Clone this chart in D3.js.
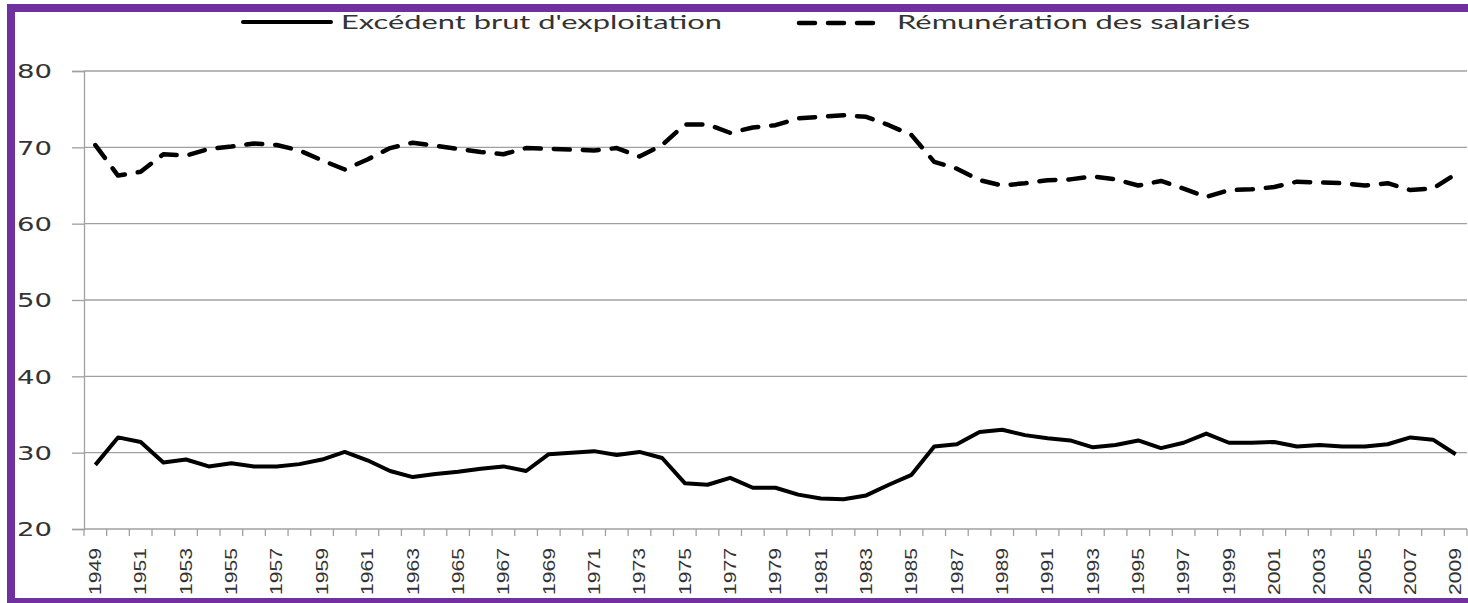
<!DOCTYPE html>
<html>
<head>
<meta charset="utf-8">
<script src="https://cdn.jsdelivr.net/npm/d3@7"></script>
<style>
  html, body { margin: 0; padding: 0; background: #fff; }
  svg { display: block; }
</style>
</head>
<body>
<svg id="chart" width="1468" height="603"></svg>
<script>
// ---- Data ----
const years = d3.range(1949, 2010);
const seriesNames = ["Excédent brut d'exploitation", "Rémunération des salariés"];
const ebe = [28.4, 32.0, 31.4, 28.7, 29.1, 28.2, 28.6, 28.2, 28.2, 28.5,
             29.1, 30.1, 29.0, 27.6, 26.8, 27.2, 27.5, 27.9, 28.2, 27.6,
             29.8, 30.0, 30.2, 29.7, 30.1, 29.3, 26.0, 25.8, 26.7, 25.4,
             25.4, 24.5, 24.0, 23.9, 24.4, 25.8, 27.1, 30.8, 31.1, 32.7,
             33.0, 32.3, 31.9, 31.6, 30.7, 31.0, 31.6, 30.6, 31.3, 32.5,
             31.3, 31.3, 31.4, 30.8, 31.0, 30.8, 30.8, 31.1, 32.0, 31.7,
             29.8];
const rem = [70.3, 66.3, 66.8, 69.1, 68.9, 69.8, 70.1, 70.5, 70.3, 69.6,
             68.3, 67.1, 68.4, 69.9, 70.6, 70.2, 69.8, 69.4, 69.1, 69.9,
             69.8, 69.7, 69.6, 69.9, 68.8, 70.3, 73.0, 73.0, 71.9, 72.6,
             72.9, 73.8, 74.0, 74.2, 74.0, 72.9, 71.6, 68.1, 67.2, 65.7,
             65.0, 65.3, 65.7, 65.8, 66.2, 65.8, 65.0, 65.6, 64.6, 63.5,
             64.4, 64.5, 64.8, 65.5, 65.4, 65.3, 65.0, 65.3, 64.4, 64.6,
             66.5];
const yTicks = [20, 30, 40, 50, 60, 70, 80];
const xTickLabels = years.filter(y => (y - 1949) % 2 === 0);

(function () {
// ---- Layout ----
const svg = d3.select("#chart");
const pLeft = 84, pRight = 1467, pTop = 71, pBottom = 529;
const x = d3.scaleBand().domain(years).range([pLeft, pRight]).paddingInner(0).paddingOuter(0);
const y = d3.scaleLinear().domain([20, 80]).range([pBottom, pTop]);
const cx = d => x(d) + x.bandwidth() / 2;

const gridColor = "#a0a0a0";

// Gridlines
svg.append("g").selectAll("line").data(yTicks.filter(t => t !== 20)).join("line")
  .attr("x1", pLeft).attr("x2", pRight)
  .attr("y1", d => y(d)).attr("y2", d => y(d))
  .attr("stroke", gridColor).attr("stroke-width", 1.3);

// Y axis
const yAxis = svg.append("g").attr("transform", `translate(${pLeft},0)`)
  .call(d3.axisLeft(y).tickValues(yTicks).tickSize(12).tickFormat(d3.format("d")));
yAxis.select(".domain").attr("stroke", gridColor).attr("stroke-width", 1.3);
yAxis.selectAll(".tick line").attr("stroke", gridColor).attr("stroke-width", 1.3);
yAxis.selectAll(".tick text")
  .attr("x", -32).attr("dy", "0.36em")
  .attr("text-anchor", "end")
  .attr("font-family", "DejaVu Sans").attr("font-size", 19)
  .attr("fill", "#333")
  .attr("textLength", 35).attr("lengthAdjust", "spacingAndGlyphs");

// X axis line + ticks at category boundaries
svg.append("line").attr("x1", pLeft).attr("x2", pRight).attr("y1", pBottom).attr("y2", pBottom)
  .attr("stroke", gridColor).attr("stroke-width", 1.3);
const boundaries = years.map(d => x(d)).concat([pRight]);
svg.append("g").selectAll("line").data(boundaries).join("line")
  .attr("x1", d => d).attr("x2", d => d)
  .attr("y1", pBottom).attr("y2", pBottom + 7)
  .attr("stroke", gridColor).attr("stroke-width", 1.3);

// X labels
svg.append("g").selectAll("text").data(xTickLabels).join("text")
  .attr("transform", d => `translate(${cx(d)},548) rotate(-90)`)
  .attr("text-anchor", "end").attr("dy", "0.36em")
  .attr("font-family", "Liberation Sans").attr("font-size", 16)
  .attr("fill", "#333")
  .attr("textLength", 47).attr("lengthAdjust", "spacingAndGlyphs")
  .text(d => d);

// Lines
const lineGen = data => d3.line().x((d, i) => cx(years[i])).y(d => y(d))(data);
svg.append("path").attr("d", lineGen(rem))
  .attr("fill", "none").attr("stroke", "#000").attr("stroke-width", 4.5)
  .attr("stroke-linecap", "round").attr("stroke-linejoin", "round")
  .attr("stroke-dasharray", "16,13");
svg.append("path").attr("d", lineGen(ebe))
  .attr("fill", "none").attr("stroke", "#000").attr("stroke-width", 4)
  .attr("stroke-linejoin", "round");

// Legend
const legend = svg.append("g");
legend.append("line").attr("x1", 243).attr("x2", 331).attr("y1", 22).attr("y2", 22)
  .attr("stroke", "#000").attr("stroke-width", 4).attr("stroke-linecap", "round");
legend.append("text").attr("x", 341).attr("y", 29)
  .attr("font-family", "Lato").attr("font-size", 20).attr("fill", "#333")
  .attr("textLength", 381).attr("lengthAdjust", "spacingAndGlyphs")
  .text(seriesNames[0]);
legend.append("line").attr("x1", 799).attr("x2", 882).attr("y1", 23).attr("y2", 23)
  .attr("stroke", "#000").attr("stroke-width", 4.5).attr("stroke-linecap", "round")
  .attr("stroke-dasharray", "16,13");
legend.append("text").attr("x", 897).attr("y", 29)
  .attr("font-family", "Lato").attr("font-size", 20).attr("fill", "#333")
  .attr("textLength", 353).attr("lengthAdjust", "spacingAndGlyphs")
  .text(seriesNames[1]);

// Purple frame
svg.append("rect").attr("x", 11).attr("y", 8).attr("width", 1500).attr("height", 594)
  .attr("fill", "none").attr("stroke", "#7030a0").attr("stroke-width", 8);
})();
</script>
</body>
</html>
